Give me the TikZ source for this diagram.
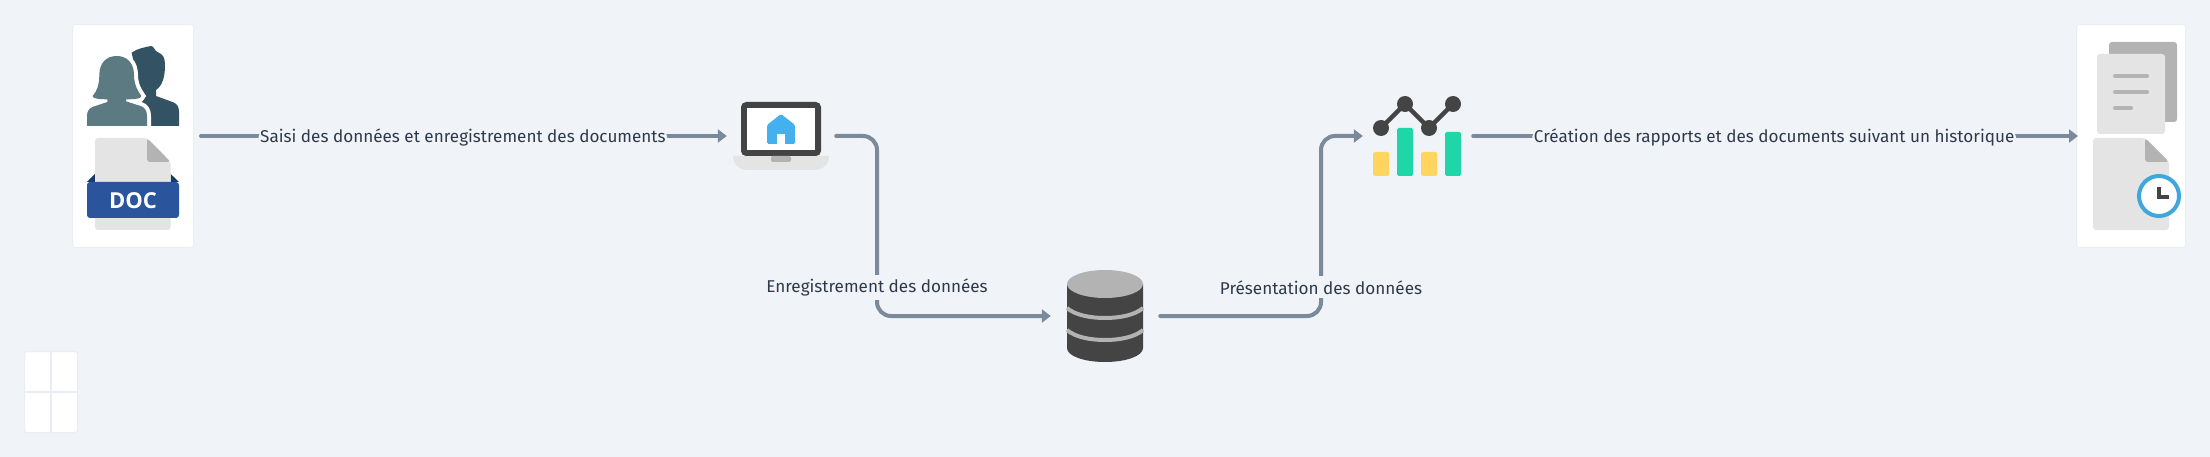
\documentclass[tikz,border=0pt]{standalone}
\usepackage{fontspec}
\setmainfont{Fira Sans}
\newfontfamily\docfont{Open Sans}
\usetikzlibrary{arrows.meta}
\definecolor{bgc}{HTML}{F0F3F7}
\definecolor{conn}{HTML}{7A8A9A}
\definecolor{inkc}{HTML}{2E3A4A}
\definecolor{darkg}{HTML}{444444}
\definecolor{midg}{HTML}{B3B3B3}
\definecolor{lightg}{HTML}{E4E4E4}
\definecolor{frontp}{HTML}{5B7A82}
\definecolor{backp}{HTML}{335263}
\definecolor{docblue}{HTML}{2A559C}
\definecolor{docnavy}{HTML}{143A70}
\definecolor{skyb}{HTML}{45B0EE}
\definecolor{clockb}{HTML}{3FA6DE}
\definecolor{barg}{HTML}{1FD6A8}
\definecolor{bary}{HTML}{FFD560}
\definecolor{edgec}{HTML}{EAEEF3}
\tikzset{
  x=1pt,y=-1pt,
  conline/.style={draw=conn,line width=4pt,line cap=round,rounded corners=14pt,-{Triangle[length=9pt,width=13pt]}},
  flowlabel/.style={fill=bgc,text=inkc,inner xsep=1.5pt,inner ysep=4pt,yshift=-1.3pt,font=\fontsize{17.1}{20}\selectfont},
  cardbox/.style={fill=white,draw=edgec,line width=1pt,rounded corners=2.5pt,inner sep=0pt},
}
\begin{document}
\begin{tikzpicture}
\useasboundingbox (0,0) rectangle (2210,457);
\fill[bgc] (0,0) rectangle (2210,457);
% cards
\node[cardbox,minimum width=121pt,minimum height=223pt] (cardL) at (133,136) {};
\node[cardbox,minimum width=109pt,minimum height=223pt] (cardR) at (2131,136) {};
% bottom-left grid
\node[cardbox,minimum width=53pt,minimum height=81pt] (grid) at (51,392) {};
\fill[edgec] (50,352) rectangle (52,432);
\fill[edgec] (25,391) rectangle (77,393);
% icon anchors
\node[inner sep=0pt,minimum width=96pt,minimum height=68pt] (laptop) at (781,136) {};
\node[inner sep=0pt,minimum width=76pt,minimum height=93pt] (db) at (1105,316) {};
\node[inner sep=0pt,minimum width=88pt,minimum height=80pt] (chart) at (1417,136) {};
\coordinate (c2a) at (877,136);
\coordinate (c2b) at (877,316);
\coordinate (c3a) at (1321,316);
\coordinate (c3b) at (1321,136);
% users and doc, in zoomed coordinates
\begin{scope}[shift={(50,10)},x=0.33333pt,y=-0.33333pt]
\fill[backp] (245,128) .. controls (262,115) and (285,112) .. (303,108) .. controls (312,108) and (313,122) .. (322,126) .. controls (340,132) and (345,145) .. (345,165) .. controls (345,195) and (340,225) .. (318,240) -- (318,258) -- (370,277) .. controls (382,282) and (387,292) .. (387,305) -- (387,348) -- (290,348) -- cycle;
\def\frontpath{(200,138) .. controls (232,138) and (252,160) .. (252,195) .. controls (252,225) and (265,245) .. (274,258) .. controls (274,266) and (255,268) .. (228,268) -- (228,274) -- (272,288) .. controls (284,292) and (291,302) .. (291,318) -- (291,348) -- (111,348) -- (111,318) .. controls (111,302) and (118,295) .. (130,290) -- (172,276) -- (172,268) .. controls (150,268) and (126,266) .. (128,258) .. controls (140,245) and (148,225) .. (148,195) .. controls (148,160) and (168,138) .. (200,138) -- cycle}
\draw[white,line width=8pt] \frontpath;
\fill[frontp] \frontpath;
\fill[white] (100,348) rectangle (295,356);
% doc
\fill[docnavy] (111,516) -- (135,492) -- (135,516) -- cycle;
\fill[docnavy] (387,516) -- (362,492) -- (362,516) -- cycle;
\fill[lightg,rounded corners=3pt] (135,660) -- (135,384) -- (291,384) -- (362,456) -- (362,660) -- cycle;
\fill[midg,rounded corners=3pt] (291,384) -- (291,456) -- (362,456) -- cycle;
\fill[docblue,rounded corners=3pt] (111,516) rectangle (387,624);
\node[text=white,inner sep=0pt,font=\docfont\bfseries\fontsize{22}{22}\selectfont] (doclabel) at (249,571) {DOC};
\end{scope}
% laptop
\fill[lightg] (733,156) -- (829,156) .. controls (829,165) and (822,170) .. (815,170) -- (747,170) .. controls (740,170) and (733,165) .. (733,156) -- cycle;
\fill[darkg,rounded corners=5pt] (741,156) -- (741,102) -- (821,102) -- (821,156) -- cycle;
\fill[white] (747,108) rectangle (815,150);
\fill[midg,rounded corners=2pt] (771,156) -- (771,162) -- (791,162) -- (791,156) -- cycle;
\fill[skyb,rounded corners=1.5pt] (767,144) -- (767,125) -- (781,114) -- (795,125) -- (795,144) -- cycle;
\fill[white] (777,134) rectangle (785,144);
% database
\fill[darkg] (1067,284) -- (1067,348) .. controls (1067,356) and (1084,362) .. (1105,362) .. controls (1126,362) and (1143,356) .. (1143,348) -- (1143,284) -- cycle;
\draw[midg,line width=4pt] (1067,308) .. controls (1075,315) and (1090,318) .. (1105,318) .. controls (1120,318) and (1135,315) .. (1143,308);
\draw[midg,line width=4pt] (1067,330) .. controls (1075,337) and (1090,340) .. (1105,340) .. controls (1120,340) and (1135,337) .. (1143,330);
\fill[midg] (1105,284) ellipse [x radius=38,y radius=14];
% chart
\fill[bary,rounded corners=1.5pt] (1373,152) rectangle (1389,176);
\fill[barg,rounded corners=1.5pt] (1397,128) rectangle (1413,176);
\fill[bary,rounded corners=1.5pt] (1421,152) rectangle (1437,176);
\fill[barg,rounded corners=1.5pt] (1445,132) rectangle (1461,176);
\draw[darkg,line width=4.5pt] (1381,128) -- (1405,104) -- (1429,128) -- (1453,104);
\foreach \p in {(1381,128),(1405,104),(1429,128),(1453,104)} \fill[darkg] \p circle [radius=8];
% right icons
\fill[midg,rounded corners=3pt] (2109,42) rectangle (2177,122);
\fill[lightg,rounded corners=3pt] (2097,54) rectangle (2165,134);
\draw[midg,line width=4pt,line cap=round] (2115,76) -- (2147,76);
\draw[midg,line width=4pt,line cap=round] (2115,92) -- (2147,92);
\draw[midg,line width=4pt,line cap=round] (2115,108) -- (2131,108);
\fill[lightg,rounded corners=3pt] (2093,230) -- (2093,138) -- (2145,138) -- (2169,162) -- (2169,230) -- cycle;
\fill[midg,rounded corners=3pt] (2145,138) -- (2145,162) -- (2169,162) -- cycle;
\filldraw[fill=white,draw=clockb,line width=4pt] (2159,196) circle [radius=20];
\draw[darkg,line width=3.6pt] (2159,187) -- (2159,197) -- (2169,197);
% connectors
\draw[conline,shorten <=7pt] (cardL.east) -- node[flowlabel,xshift=2.5pt] (lab1) {Saisi des données et enregistrement des documents} ([xshift=-6pt]laptop.west);
\draw[conline,shorten <=7pt] (laptop.east) -- (c2a) -- (c2b) -- ([xshift=-16pt]db.west);
\node[flowlabel] (lab2) at (877,286) {Enregistrement des données};
\draw[conline,shorten <=17pt] (db.east) -- (c3a) -- (c3b) -- ([xshift=-10pt]chart.west);
\node[flowlabel] (lab3) at (1321,286) {Présentation des données};
\draw[conline,shorten <=12pt,shorten >=-2pt] (chart.east) -- node[flowlabel,xshift=5.5pt] (lab4) {Création des rapports et des documents suivant un historique} (cardR.west);
\end{tikzpicture}
\end{document}
